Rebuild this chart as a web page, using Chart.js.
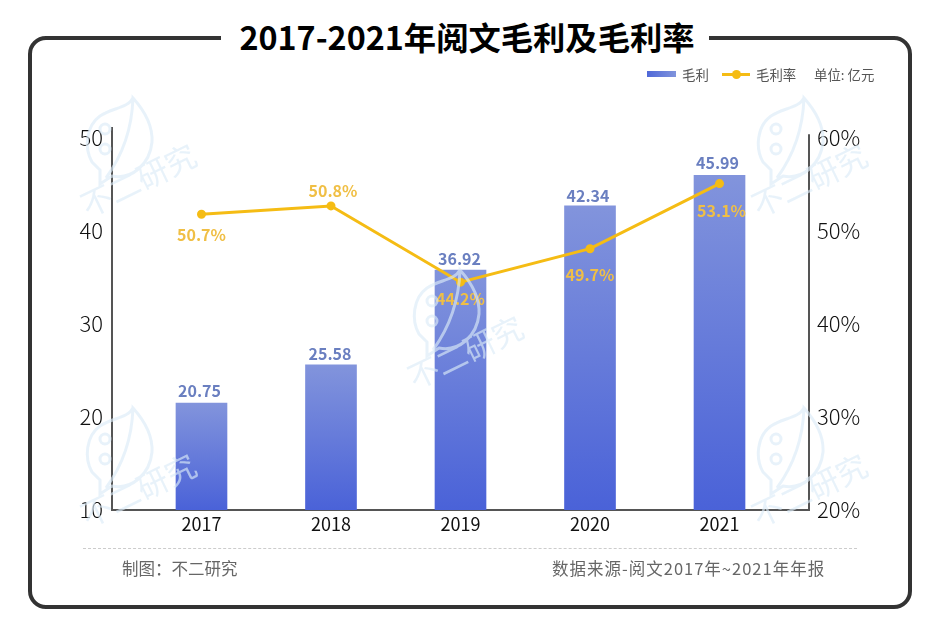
<!DOCTYPE html>
<html lang="zh-CN">
<head>
<meta charset="utf-8">
<title>2017-2021年阅文毛利及毛利率</title>
<script src="https://cdn.jsdelivr.net/npm/chart.js@4/dist/chart.umd.min.js"></script>
<style>
    html, body { margin: 0; padding: 0; background: #fff; }
    body { width: 940px; height: 644px; position: relative; overflow: hidden; font-family: 'Noto Sans CJK SC', sans-serif; }
    #frame { position: absolute; left: 28px; top: 36px; width: 876px; height: 565px; border: 4px solid #333; border-radius: 18px; }
    #chartTitle { position: absolute; left: 221px; top: 12px; width: 488px; padding-left: 4px; box-sizing: border-box; height: 48px; line-height: 48px; text-align: center; background: #fff; font-size: 32.3px; font-weight: 700; color: #000; white-space: nowrap; }
    #chartCanvas { position: absolute; left: 0; top: 0; }
    #legend { position: absolute; top: 63px; height: 22px; line-height: 22px; font-size: 13.4px; color: #555; left: 0; width: 940px; }
    #legend span { position: absolute; white-space: nowrap; }
    #swatchBar { position: absolute; left: 647px; top: 8px; width: 29px; height: 6px; background: linear-gradient(90deg, #4f68d8, #8094dc); }
    #swatchLine { position: absolute; left: 722px; top: 10px; width: 28px; height: 3px; background: #f5bc14; }
    #swatchDot { position: absolute; left: 732px; top: 7px; width: 9px; height: 9px; border-radius: 50%; background: #f5bc14; }
    #divider { position: absolute; left: 83px; top: 548px; width: 774px; border-top: 1px dashed #ccc; }
    .footnote { position: absolute; top: 555px; height: 26px; line-height: 26px; font-size: 16.5px; color: #666; white-space: nowrap; }
    #watermarks { position: absolute; left: 0; top: 0; pointer-events: none; }
</style>
</head>
<body>
<div id="frame"></div>
<div id="chartTitle">2017-2021年阅文毛利及毛利率</div>
<canvas id="chartCanvas" width="940" height="644"></canvas>
<svg id="watermarks" width="940" height="644" viewBox="0 0 940 644">
    <defs>
        <g id="wm" fill="none" stroke="#dcecf8" stroke-width="3" opacity="0.65">
            <path d="M133 98 C128 108 112 108 100 116 C86 126 84 148 92 162 L100 170 L100 184 L112 176 C132 180 150 164 152 142 C153 124 142 108 133 98 C132 128 122 156 106 178"/>
            <circle cx="105" cy="129" r="5"/>
            <circle cx="105" cy="149" r="5"/>
            <text x="0" y="0" transform="translate(88 218) rotate(-26)" fill="#dcecf8" stroke="none" font-size="31" font-family="'Noto Sans CJK SC'">不二研究</text>
        </g>
    </defs>
    <use href="#wm"/>
    <use href="#wm" x="671"/>
    <use href="#wm" x="327" y="172"/>
    <use href="#wm" y="310"/>
    <use href="#wm" x="671" y="310"/>
</svg>
<div id="legend">
    <div id="swatchBar"></div><span style="left:682px">毛利</span>
    <div id="swatchLine"></div><div id="swatchDot"></div><span style="left:756px">毛利率</span>
    <span style="left:814px">单位: 亿元</span>
</div>
<div id="divider"></div>
<div class="footnote" style="left:122px">制图：不二研究</div>
<div class="footnote" style="left:552px; letter-spacing: 1px">数据来源-阅文2017年~2021年年报</div>

<script>
const years = ['2017', '2018', '2019', '2020', '2021'];

// In the reference the marks do not sit exactly where their printed numbers say,
// so heights are read off the axes and the printed numbers are kept apart.
const profitHeights = [21.5, 25.6, 35.8, 42.7, 46.0];
const marginHeights = [51.8, 52.7, 44.5, 48.1, 55.1];
const profitLabels = ['20.75', '25.58', '36.92', '42.34', '45.99'];
const marginLabels = ['50.7%', '50.8%', '44.2%', '49.7%', '53.1%'];

const leftTicks = [10, 20, 30, 40, 50];
const rightTicks = [20, 30, 40, 50, 60];

// label placement relative to each mark, in px
const profitLabelShift = [[-2, -12], [-1, -11], [-1, -11], [-2, -10], [-2, -12]];
const marginLabelShift = [[0, 21], [2, -15], [0, 17], [0, 26], [2, 27]];

const FONT = "'Noto Sans CJK SC', sans-serif";

function barGradient(context) {
    const chart = context.chart;
    if (!context.parsed || !chart.chartArea) return '#6a80da';
    const top = chart.scales.y.getPixelForValue(context.parsed.y);
    const gradient = chart.ctx.createLinearGradient(0, top, 0, chart.chartArea.bottom);
    gradient.addColorStop(0, '#8294dc');
    gradient.addColorStop(1, '#4a62d8');
    return gradient;
}

function setTicks(values) {
    return function(axis) {
        axis.ticks = values.map(function(value) {
            return { value: value };
        });
    };
}

const markLabels = {
    id: 'markLabels',
    afterDatasetsDraw: function(chart) {
        const ctx = chart.ctx;
        const bars = chart.getDatasetMeta(0).data;
        const points = chart.getDatasetMeta(1).data;

        ctx.save();
        ctx.textAlign = 'center';
        ctx.textBaseline = 'middle';
        ctx.font = '700 16px ' + FONT;

        ctx.fillStyle = '#6a7fc0';
        bars.forEach(function(bar, i) {
            ctx.fillText(profitLabels[i], bar.x + profitLabelShift[i][0], bar.y + profitLabelShift[i][1]);
        });

        ctx.fillStyle = '#f0bf45';
        points.forEach(function(point, i) {
            ctx.fillText(marginLabels[i], point.x + marginLabelShift[i][0], point.y + marginLabelShift[i][1]);
        });
        ctx.restore();
    }
};

// the right axis line starts a little lower than the left one
const rightAxisLine = {
    id: 'rightAxisLine',
    afterDatasetsDraw: function(chart) {
        const ctx = chart.ctx;
        const area = chart.chartArea;
        ctx.save();
        ctx.strokeStyle = '#555';
        ctx.lineWidth = 2;
        ctx.beginPath();
        ctx.moveTo(area.right, chart.scales.y1.getPixelForValue(60.4));
        ctx.lineTo(area.right, area.bottom);
        ctx.stroke();
        ctx.restore();
    }
};

new Chart(document.getElementById('chartCanvas'), {
    type: 'bar',
    data: {
        datasets: [{
            label: '毛利',
            order: 2,
            yAxisID: 'y',
            data: profitHeights.map(function(value, i) {
                return { x: i, y: value };
            }),
            backgroundColor: barGradient,
            barThickness: 51
        }, {
            type: 'line',
            label: '毛利率',
            order: 1,
            yAxisID: 'y1',
            data: marginHeights.map(function(value, i) {
                return { x: i, y: value };
            }),
            borderColor: '#f5bc14',
            backgroundColor: '#f5bc14',
            borderWidth: 3,
            pointRadius: 3,
            tension: 0
        }]
    },
    options: {
        responsive: false,
        animation: false,
        layout: {
            padding: { top: 128 }
        },
        plugins: {
            legend: { display: false },
            tooltip: { enabled: false }
        },
        scales: {
            x: {
                type: 'linear',
                offset: false,
                min: -0.691,
                max: 4.691,
                afterBuildTicks: setTicks(years.map(function(year, i) { return i; })),
                afterFit: function(scale) { scale.height = 134; },
                grid: { display: false, tickLength: 0 },
                border: { color: '#555', width: 2 },
                ticks: {
                    padding: 3,
                    color: '#111',
                    autoSkip: false,
                    maxRotation: 0,
                    font: { size: 18, family: FONT },
                    callback: function(value) { return years[value]; }
                }
            },
            y: {
                position: 'left',
                min: 10,
                max: 51.08,
                afterBuildTicks: setTicks(leftTicks),
                afterFit: function(scale) { scale.width = 112; },
                grid: { display: false, tickLength: 0 },
                border: { color: '#555', width: 2 },
                ticks: {
                    padding: 9,
                    color: '#111',
                    font: { size: 22, weight: '300', family: FONT }
                }
            },
            y1: {
                position: 'right',
                min: 20,
                max: 61.08,
                afterBuildTicks: setTicks(rightTicks),
                afterFit: function(scale) { scale.width = 131; },
                grid: { display: false, tickLength: 0 },
                border: { display: false },
                ticks: {
                    padding: 8,
                    color: '#111',
                    font: { size: 22, weight: '300', family: FONT },
                    callback: function(value) { return value + '%'; }
                }
            }
        }
    },
    plugins: [markLabels, rightAxisLine]
});
</script>
</body>
</html>
